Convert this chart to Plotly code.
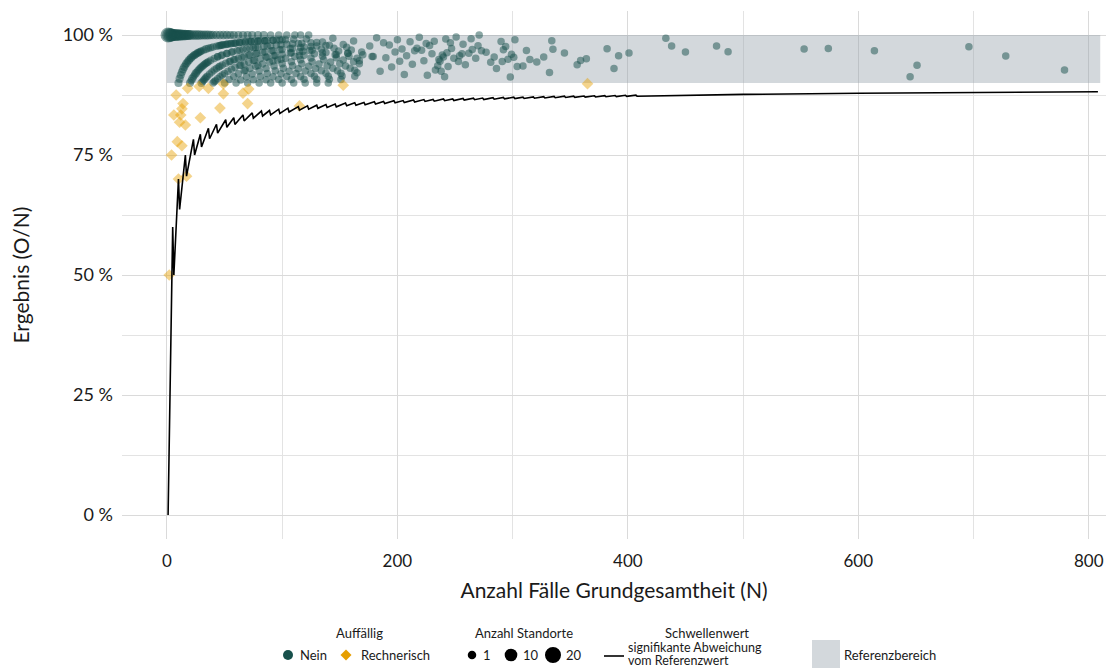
import numpy as np
import plotly.graph_objects as go

# ---------------- data ----------------
# Referenzbereich (Ergebnis in %), drawn over the range of N
ref_lower = 90
ref_upper = 100
ref_n_min = 0
ref_n_max = 810

# Schwellenwert "signifikante Abweichung vom Referenzwert" (vertices of the saw-tooth line)
thr_n = [1, 3, 4, 5, 6, 10, 11,
         16, 17, 23, 24, 29, 30, 36, 37, 43, 44, 51, 52, 58, 59, 66, 67, 74, 75,
         82, 83, 89, 90, 97, 98, 105, 106, 114, 115, 122, 123, 130, 131, 138, 139,
         146, 147, 155, 156, 163, 164, 171, 172, 180, 181, 188, 189, 197, 198, 205, 206,
         214, 215, 223, 224, 231, 232, 240, 241, 248, 249, 257, 258, 266, 267, 274, 275,
         283, 284, 292, 293, 301, 302, 309, 310, 318, 319, 327, 328, 336, 337, 345, 346,
         353, 354, 362, 363, 371, 372, 380, 381, 389, 390, 398, 399, 407, 408,
         450, 500, 600, 700, 808]
thr_pct = [0, 33.33, 50.0, 60.0, 50.0, 70.0, 63.64,
           75.0, 70.59, 78.26, 75.0, 79.31, 76.67, 80.56, 78.38, 81.40, 79.55, 82.35, 80.77, 82.76, 81.36, 83.33, 82.09, 83.78, 82.67,
           84.15, 83.13, 84.27, 83.33, 84.54, 83.67, 84.76, 83.96, 85.09, 84.35, 85.25, 84.55, 85.38, 84.73, 85.51, 84.89,
           85.62, 85.03, 85.81, 85.26, 85.89, 85.37, 85.96, 85.47, 86.11, 85.64, 86.17, 85.71, 86.29, 85.86, 86.34, 85.92,
           86.45, 86.05, 86.55, 86.16, 86.58, 86.21, 86.67, 86.31, 86.69, 86.35, 86.77, 86.43, 86.84, 86.52, 86.86, 86.55,
           86.93, 86.62, 86.99, 86.69, 87.04, 86.75, 87.06, 86.77, 87.11, 86.83, 87.16, 86.89, 87.20, 86.94, 87.25, 86.99,
           87.25, 87.01, 87.29, 87.05, 87.33, 87.10, 87.37, 87.14, 87.40, 87.18, 87.44, 87.22, 87.47, 87.25,
           87.49, 87.63, 87.85, 88.02, 88.17]

# Auffällig = Nein: Fälle (N), Zähler (O), Anzahl Standorte
g100_n = [1, 2, 3, 4, 5, 6, 7, 8, 9, 10,
          11, 12, 13, 14, 15, 16, 17, 18, 19, 20,
          22, 24, 26, 28, 30, 32, 34, 36, 38, 40,
          43, 46, 49, 52, 55, 58, 62, 66, 70, 74,
          79, 84, 90, 97, 104, 111]
g100_o = [1, 2, 3, 4, 5, 6, 7, 8, 9, 10,
          11, 12, 13, 14, 15, 16, 17, 18, 19, 20,
          22, 24, 26, 28, 30, 32, 34, 36, 38, 40,
          43, 46, 49, 52, 55, 58, 62, 66, 70, 74,
          79, 84, 90, 97, 104, 111]
g100_s = [20, 17, 15, 13, 12, 11, 10, 10, 9, 9,
          8, 8, 8, 7, 7, 7, 6, 6, 6, 6,
          5, 5, 5, 5, 4, 4, 4, 4, 3, 3,
          3, 3, 3, 3, 2, 2, 2, 2, 2, 2,
          2, 2, 1, 1, 1, 1]

g1_n = [10, 11, 12, 13, 14, 15, 16, 17, 18, 19,
        20, 21, 22, 23, 24, 25, 26, 27, 28, 29,
        30, 32, 34, 36, 38, 40, 43, 46, 49, 52,
        55, 59, 63, 68, 73, 79, 85, 92, 100, 110,
        121]
g1_o = [9, 10, 11, 12, 13, 14, 15, 16, 17, 18,
        19, 20, 21, 22, 23, 24, 25, 26, 27, 28,
        29, 31, 33, 35, 37, 39, 42, 45, 48, 51,
        54, 58, 62, 67, 72, 78, 84, 91, 99, 109,
        120]
g1_s = [2, 2, 2, 2, 2, 2, 1, 2, 1, 2,
        1, 2, 1, 1, 2, 1, 1, 2, 1, 1,
        1, 1, 2, 1, 1, 1, 1, 1, 1, 1,
        1, 1, 1, 1, 1, 1, 1, 1, 1, 1,
        1]

g2_n = [20, 21, 22, 23, 24, 25, 26, 27, 28, 29,
        30, 31, 32, 33, 34, 35, 36, 38, 41, 44,
        48, 52, 56, 61, 66, 72, 79, 87, 95, 104,
        114, 125, 135]
g2_o = [18, 19, 20, 21, 22, 23, 24, 25, 26, 27,
        28, 29, 30, 31, 32, 33, 34, 36, 39, 42,
        46, 50, 54, 59, 64, 70, 77, 85, 93, 102,
        112, 123, 133]
g2_s = [2, 1, 2, 1, 1, 2, 1, 1, 1, 1,
        1, 1, 1, 1, 1, 1, 1, 1, 1, 1,
        1, 1, 1, 1, 1, 1, 1, 1, 1, 1,
        1, 1, 1]

g3_n = [30, 31, 32, 33, 34, 35, 37, 39, 41, 43,
        45, 48, 51, 54, 58, 62, 67, 72, 78, 85,
        92, 100, 109, 119, 130, 141]
g3_o = [27, 28, 29, 30, 31, 32, 34, 36, 38, 40,
        42, 45, 48, 51, 55, 59, 64, 69, 75, 82,
        89, 97, 106, 116, 127, 138]
g3_s = [2, 1, 1, 1, 1, 1, 1, 1, 1, 1,
        1, 1, 1, 1, 1, 1, 1, 1, 1, 1,
        1, 1, 1, 1, 1, 1]

# single-site points (Anzahl Standorte = 1)
g4_n = [40, 41, 42, 44, 46, 48, 50, 53, 56, 59,
        63, 67, 71, 76, 81, 87, 93, 100, 107, 115,
        124, 134, 145, 156]
g4_o = [36, 37, 38, 40, 42, 44, 46, 49, 52, 55,
        59, 63, 67, 72, 77, 83, 89, 96, 103, 111,
        120, 130, 141, 152]

g5_n = [50, 54, 58, 62, 67, 72, 77, 83, 89, 96,
        103, 111, 119, 128, 138, 149, 160,
        60, 64, 69, 74, 80, 86, 93, 100, 108, 116,
        125, 135, 146, 157, 169,
        70, 75, 81, 87, 94, 101, 109, 117, 126, 136,
        147, 158, 170,
        80, 86, 92, 99, 106, 114, 123, 132, 142, 153,
        165, 178,
        90, 97, 104, 112, 120, 129, 139, 150, 162,
        100, 108, 116, 125, 134, 144, 155, 167,
        110, 119, 128, 138, 148, 159,
        120, 130, 140, 151, 163,
        130, 141, 152, 165,
        140, 151, 163]
g5_o = [45, 49, 53, 57, 62, 67, 72, 78, 84, 91,
        98, 106, 114, 123, 133, 144, 155,
        54, 58, 63, 68, 74, 80, 87, 94, 102, 110,
        119, 129, 140, 151, 163,
        63, 68, 74, 80, 87, 94, 102, 110, 119, 129,
        140, 151, 163,
        72, 78, 84, 91, 98, 106, 115, 124, 134, 145,
        157, 170,
        81, 88, 95, 103, 111, 120, 130, 141, 153,
        90, 98, 106, 115, 124, 134, 145, 157,
        99, 108, 117, 127, 137, 148,
        108, 118, 128, 139, 151,
        117, 128, 139, 152,
        126, 137, 149]

gd_n = [45, 47, 48, 51, 53, 56, 58, 60, 63, 65,
        68, 71, 73, 76, 79, 81, 85, 87, 92, 95,
        98, 103,
        44, 47, 52, 57, 63, 69, 75, 77, 84, 90,
        99, 109, 117, 130,
        46, 55, 59, 65, 71, 77, 83, 91, 98, 107,
        116, 125,
        64, 75, 86, 94, 108, 118, 126, 68, 79, 92,
        99, 115, 135]
gd_o = [44, 46, 47, 50, 52, 55, 57, 59, 62, 64,
        67, 70, 72, 75, 78, 80, 84, 86, 91, 94,
        97, 102,
        42, 45, 50, 55, 61, 67, 73, 75, 82, 88,
        97, 107, 115, 128,
        43, 52, 56, 62, 68, 74, 80, 88, 95, 104,
        113, 122,
        60, 71, 82, 90, 104, 114, 122, 63, 74, 87,
        94, 110, 130]

gs_n = [477, 487, 553, 574, 614, 645, 651, 696, 728, 779,
        433, 438, 450, 382, 392, 401, 388, 359, 356, 332,
        334, 335, 321, 315, 309, 304, 302, 299, 301, 298,
        294, 292, 290, 291, 284, 281, 271, 273, 270, 265,
        262, 257, 256, 251, 246, 243, 242, 254, 253, 249,
        240, 239, 236, 237, 233, 238, 241, 226, 228, 225,
        221, 217,
        188, 190, 193, 195, 198, 200, 202, 204, 206, 208,
        211, 213, 215, 219, 223, 230, 232, 235, 244, 247,
        259, 264, 268, 277, 286, 296, 312, 327, 345, 364,
        138, 144, 147, 153, 157, 162, 167, 176, 179, 182,
        185, 116, 123]
gs_o = [466, 470, 537, 558, 594, 589, 610, 679, 696, 722,
        430, 428, 434, 371, 375, 386, 361, 340, 334, 306,
        330, 325, 303, 299, 289, 284, 299, 287, 287, 272,
        287, 283, 286, 275, 271, 265, 271, 264, 264, 257,
        252, 252, 246, 250, 242, 234, 240, 243, 239, 237,
        229, 229, 224, 224, 216, 220, 220, 207, 223, 221,
        214, 211,
        185, 181, 189, 182, 191, 198, 191, 198, 189, 199,
        208, 200, 208, 218, 211, 221, 229, 220, 228, 240,
        243, 262, 255, 267, 266, 281, 302, 312, 332, 346,
        135, 143, 141, 150, 151, 160, 158, 172, 171, 181,
        171, 116, 123]

# Auffällig = Rechnerisch
orange_n = [2, 4, 6, 8, 9, 10, 11, 12, 13, 13,
            14, 16, 17, 18, 28, 29, 36, 46, 49, 49,
            66, 70, 71, 115, 153, 365]
orange_o = [1, 3, 5, 7, 7, 7, 9, 10, 10, 11,
            12, 13, 12, 16, 25, 24, 32, 39, 43, 44,
            58, 60, 63, 98, 137, 328]

# legend size keys (Anzahl Standorte)
size_keys = [1, 10, 20]

# ---------------- styling ----------------
FONT = "Lato"
TXT = "#1a1a1a"
GREEN = "#17504b"
ORANGE = "#E69F00"
BAND = "rgba(150,163,172,0.42)"
BAND_SOLID = "#d3d8dc"


def site_size(c):
    c = np.asarray(c, dtype=float)
    return np.sqrt(56.25 + 8.9 * (c - 1.0))


single_sites = g4_n + g5_n + gd_n + gs_n
green_n = np.array(g100_n + g1_n + g2_n + g3_n + single_sites, dtype=float)
green_o = np.array(g100_o + g1_o + g2_o + g3_o + g4_o + g5_o + gd_o + gs_o, dtype=float)
green_s = np.array(g100_s + g1_s + g2_s + g3_s + [1] * len(single_sites), dtype=float)
green_pct = 100.0 * green_o / green_n
orange_pct = 100.0 * np.array(orange_o, float) / np.array(orange_n, float)

fig = go.Figure()

fig.add_trace(go.Scatter(
    x=[ref_n_min, ref_n_max, ref_n_max, ref_n_min, ref_n_min],
    y=[ref_lower, ref_lower, ref_upper, ref_upper, ref_lower],
    fill="toself", fillcolor=BAND, mode="lines", line=dict(width=0),
    hoverinfo="skip", showlegend=False))

order = np.argsort(-green_s, kind="stable")
fig.add_trace(go.Scatter(
    x=green_n[order], y=green_pct[order], mode="markers",
    marker=dict(size=site_size(green_s[order]), color=GREEN, opacity=0.5,
                line=dict(width=0)),
    showlegend=False))

fig.add_trace(go.Scatter(
    x=orange_n, y=orange_pct, mode="markers",
    marker=dict(symbol="diamond", size=9, color=ORANGE, opacity=0.45,
                line=dict(width=0)),
    showlegend=False))

fig.add_trace(go.Scatter(
    x=thr_n, y=thr_pct, mode="lines", line=dict(color="black", width=1.6),
    showlegend=False))

# ---------------- layout ----------------
L, R, T, B = 122, 0, 11, 129
W, H = 1106, 668
PW, PH = W - L - R, H - T - B


def px2x(px):
    return (px - L) / PW


def px2y(py):
    return (H - B - py) / PH


grid = dict(showgrid=True, gridcolor="#dadada", gridwidth=1.3, zeroline=False,
            showline=False, ticks="")
fig.update_layout(
    width=W, height=H, margin=dict(l=L, r=R, t=T, b=B, autoexpand=False),
    paper_bgcolor="white", plot_bgcolor="white",
    font=dict(family=FONT, color=TXT, size=16),
    showlegend=False,
    xaxis=dict(range=[-39, 815], tick0=0, dtick=200,
               minor=dict(dtick=100, tick0=0, showgrid=True, gridcolor="#e3e3e3", gridwidth=1.1),
               tickfont=dict(size=17, color=TXT), ticklabelstandoff=10,
               title=dict(text="Anzahl Fälle Grundgesamtheit (N)", font=dict(size=21, color=TXT), standoff=13),
               **grid),
    yaxis=dict(range=[-5, 105], tick0=0, dtick=25, ticksuffix=" %",
               minor=dict(dtick=12.5, tick0=0, showgrid=True, gridcolor="#e3e3e3", gridwidth=1.1),
               tickfont=dict(size=18, color=TXT), ticklabelstandoff=8,
               title=dict(text="Ergebnis (O/N)", font=dict(size=21, color=TXT), standoff=27),
               **grid),
)

# ---------------- legend (bottom) ----------------
ann = []
shapes = []
LEG = 13


def text(px, py, s, xanchor="left", size=LEG):
    ann.append(dict(x=px2x(px), y=px2y(py), xref="paper", yref="paper", text=s,
                    showarrow=False, xanchor=xanchor, yanchor="middle", align="left",
                    font=dict(size=size, color=TXT, family=FONT)))


def circle(px, py, d, color):
    shapes.append(dict(type="circle", xref="paper", yref="paper", xsizemode="pixel",
                       ysizemode="pixel", xanchor=px2x(px), yanchor=px2y(py),
                       x0=-d / 2, x1=d / 2, y0=-d / 2, y1=d / 2,
                       fillcolor=color, line=dict(width=0)))


row_t, row_i = 633, 655
text(359, row_t, "Auffällig", xanchor="center")
circle(288, row_i, 10, GREEN)
text(298, row_i, "Nein")
shapes.append(dict(type="path", xref="paper", yref="paper", xsizemode="pixel",
                   ysizemode="pixel", xanchor=px2x(346), yanchor=px2y(row_i),
                   path="M 0 5.5 L 5.5 0 L 0 -5.5 L -5.5 0 Z",
                   fillcolor=ORANGE, line=dict(width=0)))
text(359, row_i, "Rechnerisch")

text(524, row_t, "Anzahl Standorte", xanchor="center")
for key, cx, tx in zip(size_keys, [472, 511, 553], [481, 521, 564]):
    circle(cx, row_i, float(site_size(key)) + 1.0, "black")
    text(tx, row_i, str(key))

text(707, row_t, "Schwellenwert", xanchor="center")
shapes.append(dict(type="line", xref="paper", yref="paper",
                   x0=px2x(604), x1=px2x(624), y0=px2y(656), y1=px2y(656),
                   line=dict(color="black", width=1.6)))
text(626, 647.5, "signifikante Abweichung", size=12.5)
text(626, 660.5, "vom Referenzwert", size=12.5)

shapes.append(dict(type="rect", xref="paper", yref="paper",
                   x0=px2x(812), x1=px2x(840), y0=px2y(640), y1=px2y(669),
                   fillcolor=BAND_SOLID, line=dict(width=0)))
text(842, row_i, "Referenzbereich")

fig.update_layout(annotations=ann, shapes=shapes)

fig.write_html("out.html", config={"displayModeBar": False},
               post_script="document.body.style.margin='0';document.body.style.overflow='hidden';")
